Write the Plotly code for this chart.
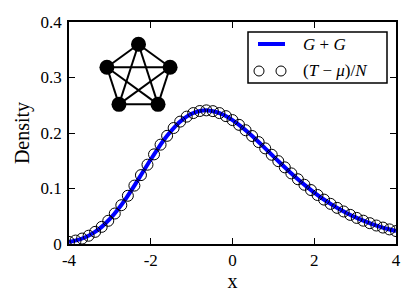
import plotly.graph_objects as go
import math

# ---- data ----
x_line = [round(-4 + 0.2 * i, 2) for i in range(41)]
gg_density = [0.0037, 0.0070, 0.0122, 0.0201, 0.0309, 0.0451, 0.0625, 0.0828, 0.1052, 0.1288,
              0.1522, 0.1747, 0.1949, 0.2121, 0.2253, 0.2346, 0.2396, 0.2407, 0.2379, 0.2320,
              0.2233, 0.2124, 0.1999, 0.1864, 0.1723, 0.1579, 0.1437, 0.1299, 0.1167, 0.1043,
              0.0927, 0.0820, 0.0723, 0.0634, 0.0555, 0.0483, 0.0420, 0.0364, 0.0314, 0.0271,
              0.0233]

x_pts = [round(-4 + 0.16 * i, 2) for i in range(51)]
t_density = [0.0037, 0.0062, 0.0098, 0.0149, 0.0219, 0.0309, 0.0418, 0.0549, 0.0699, 0.0869,
             0.1052, 0.1241, 0.1429, 0.1615, 0.1790, 0.1949, 0.2090, 0.2205, 0.2295, 0.2359,
             0.2396, 0.2408, 0.2394, 0.2359, 0.2304, 0.2233, 0.2147, 0.2050, 0.1946, 0.1836,
             0.1723, 0.1608, 0.1493, 0.1381, 0.1272, 0.1167, 0.1067, 0.0972, 0.0883, 0.0800,
             0.0723, 0.0651, 0.0586, 0.0525, 0.0470, 0.0420, 0.0375, 0.0333, 0.0296, 0.0263,
             0.0233]

x_ticks = [-4, -2, 0, 2, 4]
x_ticktext = ["-4", "-2", "0", "2", "4"]
y_ticks = [0, 0.1, 0.2, 0.3, 0.4]
y_ticktext = ["0", "0.1", "0.2", "0.3", "0.4"]

series_names = ["<i>G</i> + <i>G</i>", "(<i>T</i> \u2212 <i>\u03bc</i>)/<i>N</i>"]

# ---- figure (page body has an 8px default margin) ----
OFF = 8
W, H = 415 - OFF, 306 - OFF
L, R, T, B = 69 - OFF, 19, 22 - OFF, 62
pw, ph = W - L - R, H - T - B
FONT = "Liberation Serif"

def px2paper(px, py):
    # px, py in page pixels
    return (px - OFF - L) / pw, (H - B - (py - OFF)) / ph

fig = go.Figure()
fig.add_trace(go.Scatter(x=x_line, y=gg_density, mode="lines",
                         line=dict(color="#0000ff", width=4, shape="spline"),
                         showlegend=False, hoverinfo="skip"))
fig.add_trace(go.Scatter(x=x_pts, y=t_density, mode="markers",
                         marker=dict(symbol="circle-open", size=11, color="black",
                                     line=dict(width=1, color="black")),
                         showlegend=False, hoverinfo="skip"))

# inset: complete graph K5 (diagram)
Rp = 33.2
nodes = [(Rp * math.sin(math.radians(72 * k)), Rp * math.cos(math.radians(72 * k))) for k in range(5)]
ex, ey = [], []
for i in range(5):
    for j in range(i + 1, 5):
        ex += [nodes[i][0], nodes[j][0], None]
        ey += [nodes[i][1], nodes[j][1], None]
fig.add_trace(go.Scatter(x=ex, y=ey, mode="lines", line=dict(color="black", width=2),
                         xaxis="x2", yaxis="y2", showlegend=False, hoverinfo="skip",
                         cliponaxis=False))
fig.add_trace(go.Scatter(x=[n[0] for n in nodes], y=[n[1] for n in nodes], mode="markers",
                         marker=dict(color="black", size=15), xaxis="x2", yaxis="y2",
                         showlegend=False, hoverinfo="skip", cliponaxis=False))

# inset box in page pixels: x 93..184, y 32..123 (center 138.5, 77.5)
ix0, iy0 = px2paper(93, 123)
ix1, iy1 = px2paper(184, 32)

axis_common = dict(showgrid=False, zeroline=False, showline=True, linecolor="black", linewidth=1.5,
                   mirror="ticks", ticks="inside", ticklen=6, tickwidth=1.2, tickcolor="black",
                   tickfont=dict(family=FONT, size=17, color="black"), automargin=False)

fig.update_layout(
    width=W, height=H,
    margin=dict(l=L, r=R, t=T, b=B),
    paper_bgcolor="white", plot_bgcolor="rgba(0,0,0,0)",
    xaxis=dict(range=[-4, 4], tickvals=x_ticks, ticktext=x_ticktext,
               title=dict(text="x", font=dict(family=FONT, size=20, color="black"), standoff=0),
               ticklabelstandoff=0, **axis_common),
    yaxis=dict(range=[0, 0.4], tickvals=y_ticks, ticktext=y_ticktext,
               title=dict(text="Density", font=dict(family=FONT, size=20, color="black"), standoff=6),
               ticklabelstandoff=2, **axis_common),
    xaxis2=dict(domain=[ix0, ix1], range=[-45.5, 45.5], visible=False, anchor="y2"),
    yaxis2=dict(domain=[iy0, iy1], range=[-45.5, 45.5], visible=False, anchor="x2"),
    showlegend=False,
)

# manual legend (matplotlib style, two markers for the circles)
bx0, by0 = px2paper(248, 83)
bx1, by1 = px2paper(387, 32)
fig.add_shape(type="rect", xref="paper", yref="paper", x0=bx0, y0=by0, x1=bx1, y1=by1,
              line=dict(color="black", width=1.5), fillcolor="white", layer="above")
lx0, ly = px2paper(258, 44)
lx1, _ = px2paper(285, 44)
fig.add_shape(type="line", xref="paper", yref="paper", x0=lx0, y0=ly, x1=lx1, y1=ly,
              line=dict(color="#0000ff", width=4), layer="above")
rx, ry = 5 / pw, 5 / ph
for cx in (259, 281):
    px_, py_ = px2paper(cx, 71)
    fig.add_shape(type="circle", xref="paper", yref="paper",
                  x0=px_ - rx, x1=px_ + rx, y0=py_ - ry, y1=py_ + ry,
                  line=dict(color="black", width=1), layer="above")
tx, ty1 = px2paper(301, 44)
_, ty2 = px2paper(301, 71)
fig.add_annotation(x=tx, y=ty1, xref="paper", yref="paper", text=series_names[0], showarrow=False,
                   xanchor="left", yanchor="middle", font=dict(family=FONT, size=17, color="black"))
fig.add_annotation(x=tx, y=ty2, xref="paper", yref="paper", text=series_names[1], showarrow=False,
                   xanchor="left", yanchor="middle", font=dict(family=FONT, size=17, color="black"))

fig.write_html("out.html")
